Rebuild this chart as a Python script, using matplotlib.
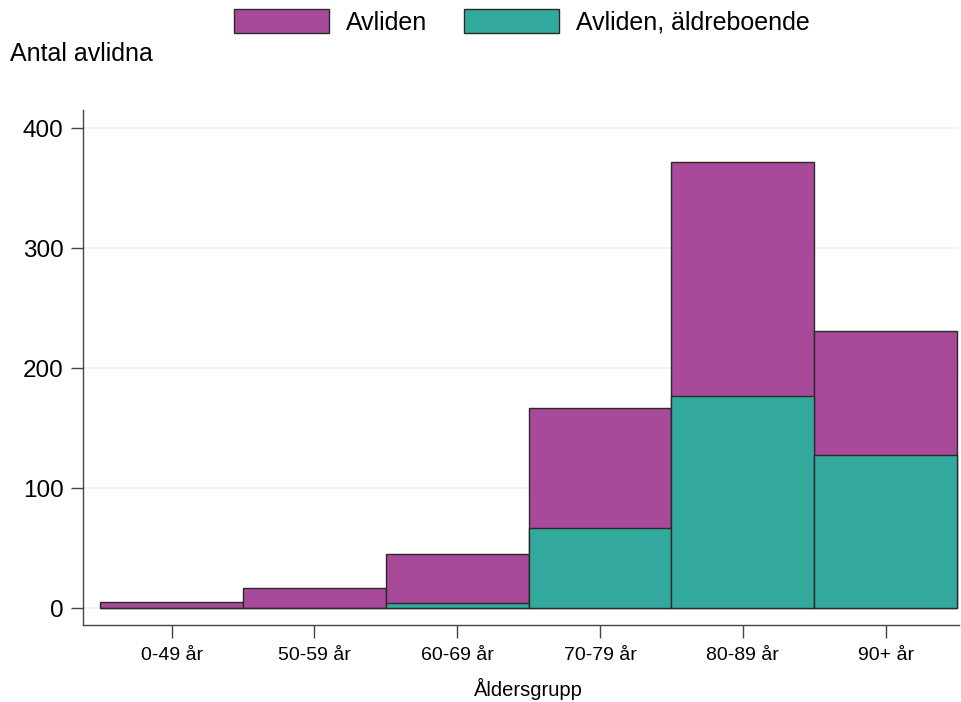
import matplotlib.pyplot as plt
import numpy as np

plt.rcParams['font.family'] = ['Liberation Sans', 'DejaVu Sans']

# data
groups = ['0-49 år', '50-59 år', '60-69 år', '70-79 år', '80-89 år', '90+ år']
avliden = [5, 17, 45, 167, 372, 231]
aldreboende = [0, 0, 4, 67, 177, 128]

purple = '#A8499A'
teal = '#33A89C'
edge = '#2a2a2a'

fig = plt.figure(figsize=(9.61, 7.02), dpi=100)
ax = fig.add_axes([0.0864, 0.1097, 0.911, 0.733])

ind = np.arange(len(groups))
ax.bar(ind, avliden, width=1.0, color=purple, edgecolor=edge, linewidth=1.0,
       label='Avliden', zorder=2)
ax.bar(ind, aldreboende, width=1.0, color=teal, edgecolor=edge, linewidth=1.0,
       label='Avliden, äldreboende', zorder=3)

ax.set_xlim(-0.62, 5.51)
ax.set_ylim(-14, 415)
ax.set_yticks([0, 100, 200, 300, 400])
ax.set_xticks(ind)
ax.set_xticklabels(groups, fontsize=14)
ax.tick_params(axis='y', labelsize=17.5, length=9, width=1, color='#444444', pad=5)
ax.tick_params(axis='x', length=9, width=1, color='#444444', pad=7)
ax.yaxis.grid(True, color='#E8F0F1', linewidth=1.2, zorder=0)
ax.set_axisbelow(True)

for s in ['top', 'right']:
    ax.spines[s].set_visible(False)
for s in ['left', 'bottom']:
    ax.spines[s].set_color('#444444')
    ax.spines[s].set_linewidth(1.0)

ax.set_xlabel('Åldersgrupp', fontsize=14.5)
ax.xaxis.set_label_coords(0.509, -0.103)
fig.text(10 / 961, 1 - 54 / 702, 'Antal avlidna', fontsize=18, va='center', ha='left')

fig.legend(loc='upper center', bbox_to_anchor=(0.543, 1.012), ncol=2, frameon=False,
           fontsize=18, handlelength=3.8, handleheight=1.1, columnspacing=1.5,
           handletextpad=0.68, borderaxespad=0.3)

plt.savefig('out.png', dpi=100)
